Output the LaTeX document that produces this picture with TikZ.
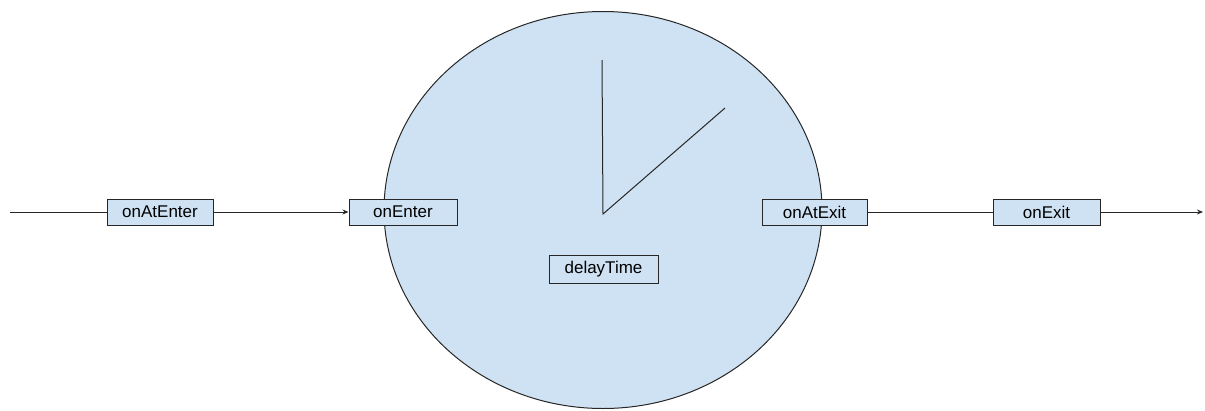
\documentclass[tikz,border=0pt]{standalone}
\usepackage{fontspec}
\setmainfont{Liberation Sans}
\usetikzlibrary{arrows.meta,shapes.geometric}
\definecolor{lb}{HTML}{CFE2F3}
\definecolor{ln}{HTML}{262626}
\begin{document}
\begin{tikzpicture}[x=1pt,y=-1pt,
  lbl/.style={draw=ln,fill=lb,line width=1pt,minimum height=26pt,inner sep=0pt,font=\fontsize{17}{18}\selectfont},
  conn/.style={draw=ln,line width=1pt},
  arr/.style={conn,-{Stealth[length=6pt,width=5pt]}}]
\useasboundingbox (0,0) rectangle (1205,410);
\node[draw=ln,fill=lb,line width=1pt,ellipse,minimum width=438pt,minimum height=397pt,inner sep=0pt] (clock) at (603,210) {};
\coordinate (h0) at (602,60);
\coordinate (hc) at (603,214);
\coordinate (h1) at (725,108);
\draw[conn] (h0) -- (hc) -- (h1);
\coordinate (start) at (10,212);
\coordinate (end) at (1203,212);
\node[lbl,minimum width=106pt] (ae) at (160,212) {onAtEnter};
\node[lbl,minimum width=108pt] (en) at (403,212) {onEnter};
\node[lbl,minimum width=105pt] (ax) at (814.5,212) {onAtExit};
\node[lbl,minimum width=107pt] (ex) at (1046.5,212) {onExit};
\node[lbl,minimum width=109pt,minimum height=28pt] (dt) at (603.5,269) {delayTime};
\draw[conn] (start) -- (ae);
\draw[arr] (ae) -- (en);
\draw[conn] (ax) -- (ex);
\draw[arr] (ex) -- (end);
\end{tikzpicture}
\end{document}
